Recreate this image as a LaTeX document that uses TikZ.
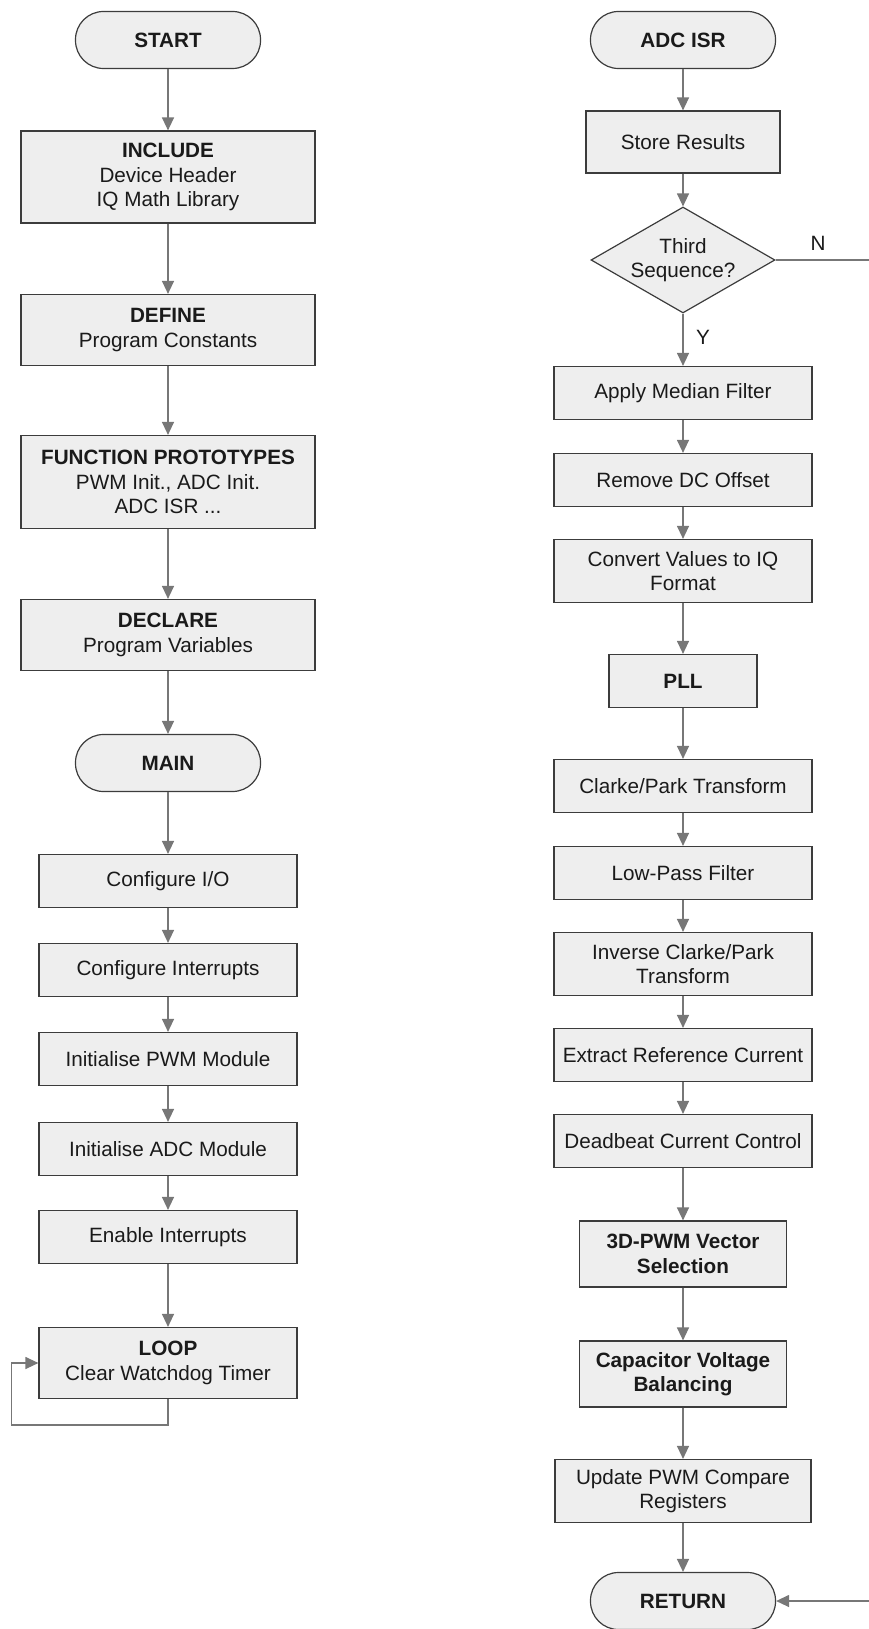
\documentclass[tikz,border=0pt]{standalone}
\usepackage{fontspec}
\setmainfont{Liberation Sans}
\usetikzlibrary{arrows.meta,shapes.geometric}
\definecolor{boxfill}{HTML}{EEEEEE}
\definecolor{boxline}{HTML}{3C3C3C}
\definecolor{linegray}{HTML}{777777}
\definecolor{txt}{HTML}{1A1A1A}

\begin{document}
\begin{tikzpicture}[
    x=1pt, y=-1pt,
    every node/.style={font=\fontsize{20.7}{24.5}\selectfont, text=txt, align=center},
    block/.style={rectangle, draw=boxline, line width=1.2pt, fill=boxfill, inner sep=0pt,
        minimum width=258pt, minimum height=53pt},
    term/.style={rectangle, rounded corners=28pt, draw=boxline, line width=1.2pt, fill=boxfill,
        minimum width=185pt, minimum height=57pt, font=\fontsize{20.7}{24.5}\selectfont\bfseries},
    decision/.style={diamond, draw=boxline, line width=1.2pt, fill=boxfill, inner sep=0pt,
        minimum width=184pt, minimum height=106pt},
    arrow/.style={draw=linegray, line width=1.3pt, -{Triangle[width=12pt,length=13pt]}},
    line/.style={draw=linegray, line width=1.3pt}
]
\useasboundingbox (0,0) rectangle (869,1629);

% Main program
\node[term] (start) at (168,40) {START};
\node[block, minimum width=294pt, minimum height=92pt] (incl) at (168,177)
    {\textbf{INCLUDE}\\Device Header\\IQ Math Library};
\node[block, minimum width=294pt, minimum height=71pt] (define) at (168,330)
    {\textbf{DEFINE}\\Program Constants};
\node[block, minimum width=294pt, minimum height=93pt] (proto) at (168,482)
    {\textbf{FUNCTION PROTOTYPES}\\PWM Init., ADC Init.\\ADC ISR ...};
\node[block, minimum width=294pt, minimum height=71pt] (declare) at (168,635)
    {\textbf{DECLARE}\\Program Variables};
\node[term] (main) at (168,763) {MAIN};
\node[block] (cfgio) at (168,881) {Configure I/O};
\node[block] (cfgint) at (168,970) {Configure Interrupts};
\node[block] (initpwm) at (168,1059) {Initialise PWM Module};
\node[block] (initadc) at (168,1149) {Initialise ADC Module};
\node[block] (enint) at (168,1237) {Enable Interrupts};
\node[block, minimum height=71pt] (loop) at (168,1363)
    {\textbf{LOOP}\\Clear Watchdog Timer};

% ADC interrupt routine
\node[term] (isr) at (683,40) {ADC ISR};
\node[block, minimum width=194pt, minimum height=62pt] (store) at (683,142) {Store Results};
\node[decision] (third) at (683,260) {};
\node (thirdtxt) at (third) {Third\\Sequence?};
\node (nlabel) at (818,243) {N};
\node (ylabel) at (703,337) {Y};
\node[block] (median) at (683,393) {Apply Median Filter};
\node[block] (dcoff) at (683,480) {Remove DC Offset};
\node[block, minimum height=63pt] (convert) at (683,571) {Convert Values to IQ\\Format};
\node[block, minimum width=148pt, font=\fontsize{20.7}{24.5}\selectfont\bfseries] (pll) at (683,681) {PLL};
\node[block] (clarke) at (683,786) {Clarke/Park Transform};
\node[block] (lpf) at (683,873) {Low-Pass Filter};
\node[block, minimum height=63pt] (invclarke) at (683,964) {Inverse Clarke/Park\\Transform};
\node[block] (extract) at (683,1055) {Extract Reference Current};
\node[block] (deadbeat) at (683,1141) {Deadbeat Current Control};
\node[block, minimum width=207pt, minimum height=66pt, font=\fontsize{20.7}{24.5}\selectfont\bfseries]
    (svpwm) at (683,1254) {3D-PWM Vector\\Selection};
\node[block, minimum width=207pt, minimum height=66pt, font=\fontsize{20.7}{24.5}\selectfont\bfseries]
    (capbal) at (683,1374) {Capacitor Voltage\\Balancing};
\node[block, minimum width=256pt, minimum height=63pt] (update) at (683,1491) {Update PWM Compare\\Registers};
\node[term] (ret) at (683,1601) {RETURN};

% Arrows, main program
\draw[arrow] (start) -- (incl);
\draw[arrow] (incl) -- (define);
\draw[arrow] (define) -- (proto);
\draw[arrow] (proto) -- (declare);
\draw[arrow] (declare) -- (main);
\draw[arrow] (main) -- (cfgio);
\draw[arrow] (cfgio) -- (cfgint);
\draw[arrow] (cfgint) -- (initpwm);
\draw[arrow] (initpwm) -- (initadc);
\draw[arrow] (initadc) -- (enint);
\draw[arrow] (enint) -- (loop);
\draw[arrow] (loop.south) -- ++(0,26) -| ([xshift=-27pt]loop.west) -- (loop.west);

% Arrows, ADC ISR
\draw[arrow] (isr) -- (store);
\draw[arrow] (store) -- (third);
\draw[arrow] (third) -- (median);
\draw[arrow] (median) -- (dcoff);
\draw[arrow] (dcoff) -- (convert);
\draw[arrow] (convert) -- (pll);
\draw[arrow] (pll) -- (clarke);
\draw[arrow] (clarke) -- (lpf);
\draw[arrow] (lpf) -- (invclarke);
\draw[arrow] (invclarke) -- (extract);
\draw[arrow] (extract) -- (deadbeat);
\draw[arrow] (deadbeat) -- (svpwm);
\draw[arrow] (svpwm) -- (capbal);
\draw[arrow] (capbal) -- (update);
\draw[arrow] (update) -- (ret);
\draw[arrow] (third.east) -- ++(100,0) |- (ret.east);
\end{tikzpicture}
\end{document}
